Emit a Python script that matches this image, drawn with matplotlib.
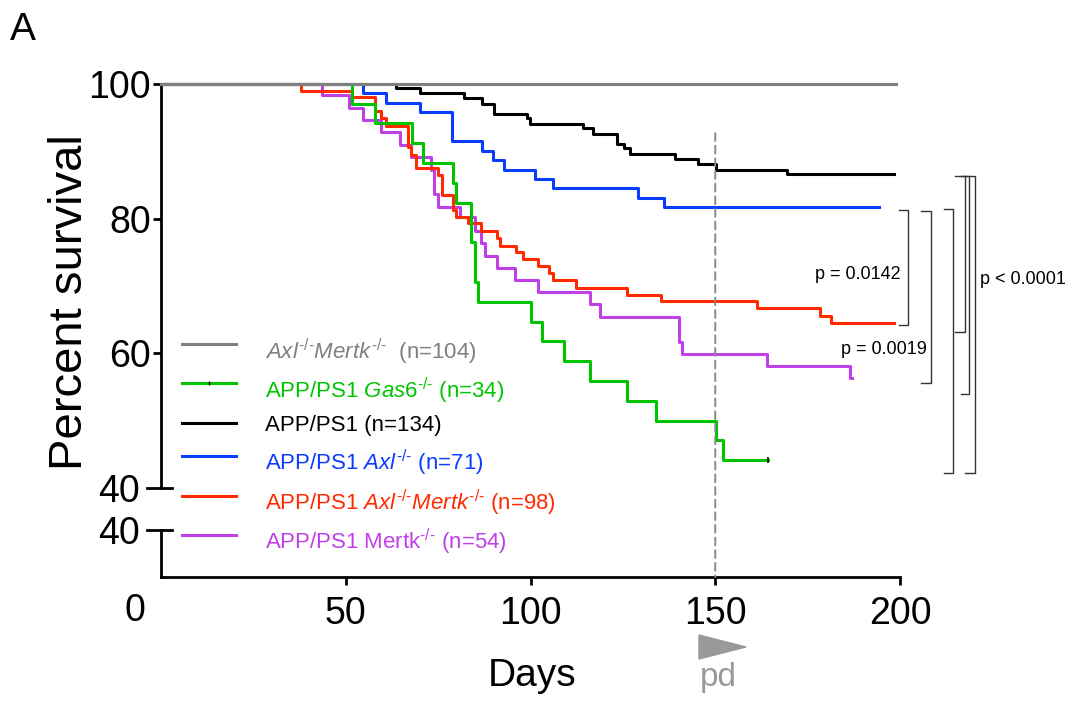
import matplotlib
matplotlib.use('Agg')
import matplotlib.pyplot as plt
from matplotlib.patches import Polygon, ConnectionPatch

plt.rcParams['font.family'] = ['Liberation Sans', 'DejaVu Sans']
plt.rcParams['mathtext.fontset'] = 'custom'
plt.rcParams['mathtext.rm'] = 'Liberation Sans'
plt.rcParams['mathtext.it'] = 'Liberation Sans:italic'

# Kaplan-Meier steps (day of event, % surviving after it)
gray_days = [0, 199]
gray_pct = [100, 100]

black_days = [0, 63.7, 70, 81.9, 86.9, 90, 99.1, 99.9, 114.1, 116.8, 123.3, 125.2,
              126.9, 139.2, 145.2, 150.2, 169.3, 198.4]
black_pct = [100, 99.4, 98.7, 97.9, 97.1, 95.6, 95.0, 94.1, 93.4, 92.6, 91.1, 90.5,
             89.6, 88.9, 88.1, 87.3, 86.6, 86.6]

blue_days = [0, 54.7, 60.8, 70, 78.8, 86.9, 89.9, 92.8, 101.1, 106, 129.2, 136.2, 194.3]
blue_pct = [100, 98.6, 97.2, 95.8, 91.6, 90.1, 88.7, 87.3, 85.9, 84.5, 83.1, 81.7, 81.7]

red_days = [0, 37.8, 51.8, 57.8, 59.6, 60.8, 66.8, 67.7, 68.9, 74.9, 76.1, 78.9, 79.9,
            83.1, 86.7, 90.9, 91.8, 96.0, 97.9, 102.0, 105.1, 106.0, 112.2, 126.2,
            135.4, 161.4, 178.4, 181.3, 198.4]
red_pct = [100, 99.0, 98.0, 96.0, 95.0, 93.8, 90.7, 89.5, 87.5, 86.5, 83.5, 81.3, 80.2,
           79.4, 78.2, 77.1, 76.0, 75.0, 74.0, 72.9, 72.0, 70.9, 69.7, 68.7,
           67.7, 66.7, 65.6, 64.5, 64.5]

purple_days = [0, 43.7, 50.9, 54.7, 59.6, 64.8, 67.7, 73.2, 73.8, 74.9, 80.8, 84.9, 86.7,
               87.8, 90.9, 95.8, 102.0, 116.0, 118.8, 140.3, 141.1, 164.1, 186.5, 186.9]
purple_pct = [100, 98.3, 96.4, 94.7, 92.8, 90.9, 89.2, 87.3, 83.6, 81.8, 80.3, 78.2, 76.4,
              74.5, 72.7, 70.9, 69.1, 67.3, 65.4, 61.7, 59.9, 58.1, 56.4, 56.4]

green_days = [0, 51.8, 57.8, 67.9, 70.9, 79.0, 79.8, 84.0, 84.9, 85.8, 100.0, 103.0,
              109.0, 116.0, 126.1, 134.0, 150.2, 152.2, 164.4]
green_pct = [100, 97.1, 94.2, 91.2, 88.3, 85.3, 82.4, 76.5, 70.6, 67.6, 64.7, 61.8,
             58.8, 55.9, 52.9, 50.0, 47.1, 44.1, 44.1]

ko = r'^{\text{-/-}}'
labels = [r'$\mathit{Axl}' + ko + r'\mathit{Mertk}' + ko + r'$  (n=104)',
          r'APP/PS1 $\mathit{Gas6}' + ko + r'$ (n=34)',
          'APP/PS1 (n=134)',
          r'APP/PS1 $\mathit{Axl}' + ko + r'$ (n=71)',
          r'APP/PS1 $\mathit{Axl}' + ko + r'\mathit{Mertk}' + ko + r'$ (n=98)',
          r'APP/PS1 Mertk$' + ko + r'$ (n=54)']
colors = ['#808080', '#00c400', '#000000', '#0a3cff', '#ff2a00', '#c040e8']
series = [(gray_days, gray_pct), (green_days, green_pct), (black_days, black_pct),
          (blue_days, blue_pct), (red_days, red_pct), (purple_days, purple_pct)]

pvals = ['p = 0.0142', 'p = 0.0019', 'p < 0.0001']

W, H = 1069, 702
fig = plt.figure(figsize=(W / 100, H / 100), dpi=100)


def fx(px):
    return px / W


def fy(py):
    return 1 - py / H


ax1 = fig.add_axes([fx(161), fy(488), (900 - 161) / W, (488 - 84) / H])
ax2 = fig.add_axes([fx(161), fy(577), (900 - 161) / W, (577 - 530) / H])
axw = 900 - 161

# draw curves (gray last so it sits on top at 100%)
for i in [5, 4, 3, 2, 1, 0]:
    d, p = series[i]
    ax1.step(d, p, where='post', color=colors[i], lw=2.2, clip_on=False, zorder=3)
ax1.plot(green_days[-1], green_pct[-1], marker='|', color='k', ms=4, mew=1.2,
         clip_on=False, zorder=4)

ax1.set_xlim(0, 200)
ax1.set_ylim(40, 100)
ax2.set_xlim(0, 200)
ax2.set_ylim(0, 40)

for s in ['top', 'right', 'bottom']:
    ax1.spines[s].set_visible(False)
for s in ['top', 'right']:
    ax2.spines[s].set_visible(False)
for ax in [ax1, ax2]:
    for s in ['left', 'bottom']:
        ax.spines[s].set_linewidth(2)

ax1.set_xticks([])
ax1.set_yticks([60, 80, 100])
ax1.tick_params(axis='y', length=5.8, width=2, labelsize=27, pad=1.5)
ax2.set_yticks([])
ax2.set_xticks([50, 100, 150, 200])
ax2.tick_params(axis='x', length=5.8, width=2, labelsize=27, pad=8)

# axis break marks with their "40" labels
for ax in [ax1, ax2]:
    ax.plot([-14 / axw, 11 / axw], [40, 40], transform=ax.get_yaxis_transform(),
            color='k', lw=2, clip_on=False)
    ax.text(-21 / axw, 40, '40', transform=ax.get_yaxis_transform(), ha='right',
            va='center_baseline', fontsize=27)
fig.text(fx(135), fy(607), '0', ha='center', va='center_baseline', fontsize=27)

# dashed marker at 150 days running down to the x axis
con = ConnectionPatch(xyA=(150, 92.7), coordsA=ax1.transData, xyB=(150, 0),
                      coordsB=ax2.transData, color='#8a8a8a', lw=1.4, ls=(0, (4, 2.5)),
                      zorder=2)
fig.add_artist(con)

# manual legend
line_y = [344, 383, 423, 456, 496, 535]
text_y = [359, 398, 431, 470, 510, 549]
for i in range(6):
    fig.add_artist(plt.Line2D([fx(182), fx(236)], [fy(line_y[i])] * 2,
                              color=colors[i], lw=2.2, transform=fig.transFigure))
    fig.text(fx(265), fy(text_y[i]), labels[i], color=colors[i], fontsize=16,
             ha='left', va='baseline')
fig.add_artist(plt.Line2D([fx(209)], [fy(line_y[1])], marker='|', color='k', ms=3,
                          mew=1, transform=fig.transFigure))

# significance brackets
brackets = [(202.2, 199.7, 81.3, 64.2), (208.3, 205.8, 81.2, 55.6),
            (214.4, 211.9, 81.5, 42.2), (217.5, 215.0, 86.4, 63.1),
            (218.6, 216.4, 86.3, 53.9), (220.2, 217.7, 86.4, 42.2)]
for xv, xt, yt, yb in brackets:
    ax1.plot([xt, xv, xv, xt], [yt, yt, yb, yb], color='#333333', lw=1.0,
             clip_on=False)
ax1.text(200.3, 71.7, pvals[0], ha='right', va='center', fontsize=13)
ax1.text(207.2, 60.5, pvals[1], ha='right', va='center', fontsize=13)
ax1.text(221.6, 70.9, pvals[2], ha='left', va='center', fontsize=13)

fig.text(fx(70), fy(302), 'Percent survival', rotation=90, ha='center', va='center',
         fontsize=34)
fig.text(fx(532), fy(686), 'Days', ha='center', va='baseline', fontsize=28)
fig.text(fx(10), fy(40), 'A', ha='left', va='baseline', fontsize=28)

fig.add_artist(Polygon([[fx(699), fy(635)], [fx(699), fy(659)], [fx(746), fy(647)]],
                       closed=True, color='#999999', transform=fig.transFigure))
fig.text(fx(718), fy(686), 'pd', color='#999999', fontsize=24, ha='center',
         va='baseline')

fig.savefig('out.png', dpi=100)
